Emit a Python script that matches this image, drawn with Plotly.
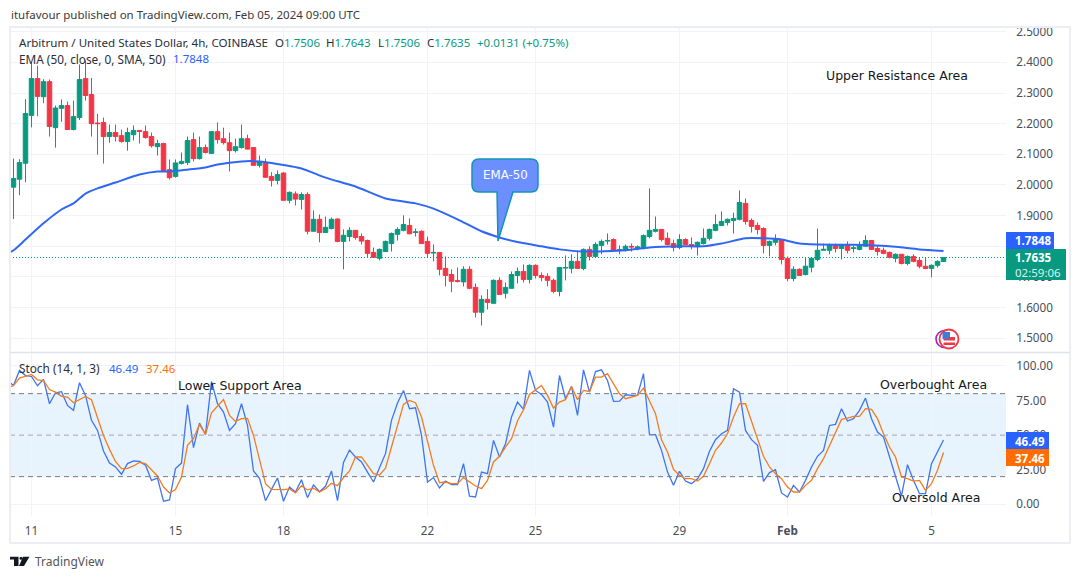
"""Arbitrum / USD 4h chart with EMA-50 and a stochastic panel, redrawn with plotly"""
import pandas as pd
import plotly.graph_objects as go

W, H = 1080, 579

#4h bars, first one is Jan 10 12:00
bar_dates = pd.date_range("2024-01-10 12:00", periods=156, freq="4h")
#the stochastic lines start one bar earlier and get clipped by the pane edge
stoch_dates = pd.date_range("2024-01-10 08:00", periods=157, freq="4h")

opens = [
    1.993, 2.019, 2.071, 2.227, 2.347, 2.288, 2.337, 2.187, 2.250, 2.259,
    2.181, 2.220, 2.347, 2.295, 2.202, 2.204, 2.158, 2.171, 2.161, 2.142,
    2.164, 2.178, 2.174, 2.158, 2.125, 2.135, 2.050, 2.028, 2.070, 2.073,
    2.148, 2.086, 2.122, 2.103, 2.174, 2.151, 2.138, 2.112, 2.122, 2.151,
    2.122, 2.064, 2.073, 2.028, 2.015, 2.039, 1.950, 1.971, 1.953, 1.969,
    1.849, 1.888, 1.845, 1.858, 1.889, 1.816, 1.832, 1.852, 1.832, 1.819,
    1.780, 1.761, 1.783, 1.809, 1.839, 1.852, 1.868, 1.845, 1.849, 1.816,
    1.778, 1.780, 1.728, 1.708, 1.688, 1.684, 1.725, 1.666, 1.585, 1.627,
    1.614, 1.689, 1.647, 1.663, 1.705, 1.718, 1.692, 1.738, 1.705, 1.702,
    1.689, 1.653, 1.729, 1.728, 1.751, 1.728, 1.790, 1.767, 1.803, 1.817,
    1.822, 1.787, 1.787, 1.800, 1.794, 1.793, 1.832, 1.849, 1.855, 1.826,
    1.809, 1.796, 1.822, 1.806, 1.800, 1.809, 1.826, 1.852, 1.868, 1.878,
    1.884, 1.888, 1.940, 1.884, 1.868, 1.858, 1.803, 1.813, 1.822, 1.761,
    1.695, 1.725, 1.708, 1.732, 1.757, 1.787, 1.787, 1.803, 1.793, 1.806,
    1.793, 1.790, 1.800, 1.819, 1.793, 1.787, 1.780, 1.761, 1.774, 1.744,
    1.767, 1.754, 1.735, 1.728, 1.738, 1.7506,
]
highs = [
    2.086, 2.084, 2.280, 2.400, 2.389, 2.345, 2.344, 2.259, 2.279, 2.272,
    2.275, 2.393, 2.406, 2.349, 2.232, 2.220, 2.197, 2.197, 2.181, 2.187,
    2.194, 2.178, 2.194, 2.171, 2.148, 2.138, 2.083, 2.083, 2.106, 2.158,
    2.171, 2.158, 2.132, 2.174, 2.204, 2.187, 2.171, 2.151, 2.197, 2.164,
    2.122, 2.096, 2.086, 2.042, 2.047, 2.042, 1.979, 1.979, 1.976, 1.976,
    1.917, 1.904, 1.897, 1.894, 1.891, 1.855, 1.862, 1.852, 1.842, 1.822,
    1.796, 1.793, 1.819, 1.845, 1.862, 1.901, 1.891, 1.858, 1.852, 1.832,
    1.806, 1.780, 1.767, 1.725, 1.731, 1.735, 1.735, 1.679, 1.640, 1.660,
    1.692, 1.699, 1.682, 1.718, 1.731, 1.741, 1.741, 1.741, 1.715, 1.712,
    1.695, 1.731, 1.770, 1.774, 1.787, 1.793, 1.800, 1.813, 1.822, 1.842,
    1.826, 1.803, 1.806, 1.809, 1.803, 1.839, 1.989, 1.897, 1.855, 1.845,
    1.822, 1.839, 1.826, 1.829, 1.816, 1.858, 1.858, 1.904, 1.914, 1.891,
    1.910, 1.982, 1.956, 1.891, 1.878, 1.862, 1.819, 1.839, 1.822, 1.767,
    1.735, 1.728, 1.764, 1.761, 1.858, 1.809, 1.809, 1.809, 1.806, 1.816,
    1.803, 1.816, 1.836, 1.819, 1.800, 1.796, 1.783, 1.777, 1.774, 1.770,
    1.774, 1.764, 1.764, 1.741, 1.754, 1.7643,
]
lows = [
    1.889, 1.967, 2.009, 2.188, 2.224, 2.267, 2.158, 2.122, 2.206, 2.181,
    2.178, 2.212, 2.275, 2.158, 2.099, 2.070, 2.138, 2.142, 2.138, 2.112,
    2.145, 2.135, 2.151, 2.122, 2.096, 2.042, 2.018, 2.024, 2.067, 2.065,
    2.077, 2.083, 2.103, 2.103, 2.135, 2.132, 2.044, 2.106, 2.119, 2.116,
    2.064, 2.057, 2.024, 1.995, 2.002, 1.950, 1.940, 1.933, 1.920, 1.839,
    1.849, 1.813, 1.845, 1.855, 1.813, 1.725, 1.816, 1.822, 1.806, 1.764,
    1.764, 1.754, 1.783, 1.783, 1.819, 1.849, 1.839, 1.832, 1.809, 1.764,
    1.751, 1.705, 1.669, 1.650, 1.682, 1.669, 1.660, 1.568, 1.542, 1.594,
    1.614, 1.643, 1.630, 1.663, 1.679, 1.682, 1.679, 1.695, 1.686, 1.669,
    1.647, 1.637, 1.689, 1.712, 1.728, 1.722, 1.754, 1.767, 1.774, 1.806,
    1.783, 1.774, 1.783, 1.783, 1.787, 1.790, 1.826, 1.845, 1.816, 1.803,
    1.783, 1.790, 1.804, 1.790, 1.770, 1.806, 1.819, 1.849, 1.868, 1.868,
    1.842, 1.884, 1.871, 1.845, 1.839, 1.777, 1.767, 1.803, 1.741, 1.686,
    1.686, 1.705, 1.705, 1.715, 1.751, 1.787, 1.774, 1.780, 1.757, 1.777,
    1.780, 1.787, 1.800, 1.790, 1.770, 1.774, 1.761, 1.748, 1.741, 1.738,
    1.748, 1.728, 1.725, 1.699, 1.731, 1.7506,
]
closes = [
    2.021, 2.073, 2.233, 2.347, 2.289, 2.337, 2.191, 2.251, 2.259, 2.181,
    2.223, 2.344, 2.292, 2.200, 2.200, 2.158, 2.171, 2.158, 2.142, 2.171,
    2.178, 2.175, 2.155, 2.128, 2.135, 2.046, 2.024, 2.072, 2.077, 2.145,
    2.086, 2.122, 2.106, 2.174, 2.148, 2.138, 2.112, 2.125, 2.151, 2.117,
    2.064, 2.075, 2.025, 2.015, 2.034, 1.950, 1.976, 1.954, 1.969, 1.849,
    1.888, 1.845, 1.862, 1.888, 1.816, 1.836, 1.852, 1.829, 1.817, 1.777,
    1.764, 1.790, 1.816, 1.842, 1.855, 1.871, 1.841, 1.847, 1.809, 1.777,
    1.780, 1.725, 1.705, 1.686, 1.686, 1.725, 1.663, 1.585, 1.627, 1.617,
    1.689, 1.643, 1.666, 1.708, 1.718, 1.692, 1.738, 1.705, 1.698, 1.689,
    1.653, 1.731, 1.731, 1.751, 1.728, 1.790, 1.767, 1.806, 1.816, 1.819,
    1.787, 1.789, 1.800, 1.798, 1.798, 1.835, 1.852, 1.855, 1.822, 1.806,
    1.796, 1.822, 1.806, 1.800, 1.813, 1.826, 1.855, 1.871, 1.881, 1.888,
    1.891, 1.943, 1.881, 1.865, 1.855, 1.803, 1.816, 1.822, 1.757, 1.695,
    1.725, 1.705, 1.735, 1.761, 1.787, 1.790, 1.803, 1.793, 1.806, 1.787,
    1.795, 1.803, 1.819, 1.790, 1.783, 1.777, 1.764, 1.774, 1.744, 1.767,
    1.751, 1.735, 1.728, 1.738, 1.751, 1.7635,
]

#EMA-50 read at these bar numbers (bar 0 = first candle)
ema_bars = [-1, 0, 2, 5, 8, 10, 12, 14, 17, 21, 24, 26, 29, 32, 34, 38, 41, 43, 48, 52, 57, 62, 67,
            70, 74, 78, 81, 84, 88, 91, 95, 102, 106, 111, 115, 118, 122, 125, 128, 131, 134,
            140, 146, 151, 155]
ema_values = [1.777, 1.787, 1.822, 1.875, 1.920, 1.940, 1.972, 1.989, 2.008, 2.034, 2.044, 2.044,
              2.050, 2.057, 2.067, 2.077, 2.077, 2.072, 2.054, 2.024, 1.995, 1.956, 1.940,
              1.923, 1.888, 1.849, 1.829, 1.814, 1.800, 1.790, 1.783, 1.787, 1.796, 1.800, 1.800,
              1.809, 1.826, 1.826, 1.822, 1.809, 1.806, 1.805, 1.800, 1.790, 1.7848]

stoch_k = [
    89.5, 85.9, 96.8, 93.1, 92.4, 85.7, 90.3, 72.7, 80.6, 81.4, 71.5, 67.9, 87.9, 78.7, 60.7, 53.4,
    38.5, 29.8, 27.0, 21.7, 29.4, 31.3, 31.0, 28.2, 17.3, 19.0, 2.2, 3.1, 25.8, 29.8,
    72.0, 40.9, 58.7, 50.5, 88.8, 72.7, 66.7, 53.4, 58.2, 72.7, 57.0, 24.1, 18.8, 2.6,
    10.8, 19.0, 2.2, 12.5, 8.9, 17.8, 4.8, 14.0, 9.1, 13.0, 24.1, 2.6, 30.3, 39.2, 34.2, 30.6,
    23.3, 16.1, 26.5, 36.6, 60.7, 73.2, 82.3, 69.1, 69.8, 49.8, 16.1, 19.3, 11.8, 16.8,
    14.2, 14.2, 29.4, 5.8, 5.3, 23.3, 22.1, 46.2, 34.2, 43.8, 63.1, 73.9, 68.6, 96.8,
    82.3, 79.4, 73.9, 55.8, 93.1, 76.3, 85.2, 64.3, 97.2, 81.1, 96.0, 97.2, 89.5, 74.4,
    74.6, 79.2, 78.7, 78.7, 94.4, 50.3, 50.3, 39.0, 23.3, 13.7, 23.8, 16.8, 14.9, 18.5,
    25.8, 38.3, 46.7, 51.0, 53.4, 83.5, 81.1, 53.4, 46.7, 42.6, 16.6, 22.9, 25.0, 8.2,
    5.3, 13.7, 8.9, 17.3, 27.0, 34.7, 39.0, 57.0, 57.8, 69.1, 60.2, 61.9, 67.9, 76.8,
    61.9, 52.2, 48.6, 34.2, 19.7, 6.0, 28.6, 17.3, 7.7, 7.7, 29.4, 37.8, 46.49,
]
stoch_d = [
    84.0, 85.9, 91.2, 92.4, 93.9, 90.0, 89.5, 83.0, 81.1, 78.0, 77.5, 73.4, 75.8, 78.0, 75.6, 63.1,
    49.8, 39.7, 31.0, 25.8, 26.0, 27.7, 30.3, 29.4, 24.6, 20.5, 12.5, 8.2, 10.6, 19.7,
    42.6, 47.4, 57.8, 50.5, 66.2, 71.0, 75.8, 64.3, 59.9, 61.9, 62.1, 49.8, 33.0, 14.9,
    10.8, 10.6, 10.6, 11.1, 8.2, 13.5, 10.4, 11.6, 8.9, 11.3, 15.2, 13.5, 19.3, 24.1, 34.2, 34.2,
    28.2, 22.1, 21.2, 26.2, 41.4, 57.0, 72.2, 75.1, 73.4, 63.1, 45.0, 28.2, 15.6, 16.1,
    14.9, 14.9, 19.3, 16.1, 13.2, 11.3, 17.3, 30.6, 34.7, 41.4, 47.4, 60.2, 68.4, 79.4,
    82.8, 85.9, 78.7, 69.6, 73.9, 75.6, 85.2, 75.6, 82.3, 81.6, 91.9, 91.9, 94.4, 87.1,
    79.9, 76.3, 77.5, 78.7, 84.0, 75.1, 65.5, 46.7, 37.8, 25.3, 20.9, 18.5, 18.5, 16.8,
    20.2, 29.4, 39.0, 44.3, 51.0, 63.1, 72.7, 72.7, 60.7, 47.4, 34.7, 27.0, 22.1, 18.5,
    12.5, 8.9, 8.9, 13.7, 17.3, 25.8, 33.0, 42.6, 51.0, 61.4, 62.3, 63.5, 63.5, 69.1,
    68.6, 61.9, 51.0, 41.4, 34.2, 19.7, 18.5, 16.8, 17.3, 10.1, 14.9, 24.6, 37.46,
]
assert len(opens) == len(highs) == len(lows) == len(closes) == 156
assert len(stoch_k) == len(stoch_d) == 157

day_ticks = ["2024-01-11", "2024-01-15", "2024-01-18", "2024-01-22", "2024-01-25", "2024-01-29",
             "2024-02-01", "2024-02-05"]
day_labels = ["11", "15", "18", "22", "25", "29", "<b>Feb</b>", "5"]
price_ticks = [1.5, 1.6, 1.7, 1.8, 1.9, 2.0, 2.1, 2.2, 2.3, 2.4, 2.5]
stoch_ticks = [0, 25, 50, 75, 100]

GREEN = "#089981"
RED = "#F23645"
BLUE = "#2962FF"
ORANGE = "#FF6D00"
GRID = "#F0F3FA"
FRAME = "#ECEEF4"
TEXT = "#2A2E39"
AXIS_TEXT = "#4A4E59"
FONT = "Noto Sans"
NOTE_FONT = "DejaVu Sans"

#helpers, pixel position in the picture -> paper coordinates
def px(x):
    return x / W
def py(y):
    return 1 - y / H

shapes = []
annotations = []

def label(x, y, text, size=11.5, color=TEXT, anchor="left", family=FONT):
    annotations.append(dict(xref="paper", yref="paper", x=px(x), y=py(y), text=text, showarrow=False,
                            xanchor=anchor, yanchor="middle", borderpad=0,
                            font=dict(family=family, size=size, color=color)))

def box(x0, y0, x1, y1, fill, line=None, width=0, layer="above"):
    shapes.append(dict(type="rect", xref="paper", yref="paper", x0=px(x0), x1=px(x1), y0=py(y0), y1=py(y1),
                       fillcolor=fill, line=dict(color=line or fill, width=width), layer=layer))

def path(points, fill, line=None, width=0):
    #points: list of pixel (x, y), closed polygon
    d = "M " + " L ".join(f"{px(a):.5f},{py(b):.5f}" for a, b in points) + " Z"
    shapes.append(dict(type="path", xref="paper", yref="paper", path=d, fillcolor=fill,
                       line=dict(color=line or fill, width=width), layer="above"))

def circle(cx, cy, r, fill, line, width):
    shapes.append(dict(type="circle", xref="paper", yref="paper", x0=px(cx - r), x1=px(cx + r),
                       y0=py(cy + r), y1=py(cy - r), fillcolor=fill,
                       line=dict(color=line, width=width), layer="above"))

fig = go.Figure()

#price pane
fig.add_trace(go.Candlestick(x=bar_dates, open=opens, high=highs, low=lows, close=closes, xaxis="x", yaxis="y",
                             whiskerwidth=0,
                             increasing=dict(line=dict(color=GREEN, width=1), fillcolor=GREEN),
                             decreasing=dict(line=dict(color=RED, width=1), fillcolor=RED)))
ema_dates = [bar_dates[0] + pd.Timedelta(hours=4 * b) for b in ema_bars]
fig.add_trace(go.Scatter(x=ema_dates, y=ema_values, mode="lines", xaxis="x", yaxis="y",
                         line=dict(color="#2E66F6", width=2, shape="spline", smoothing=0.6)))

#stochastic pane
fig.add_trace(go.Scatter(x=stoch_dates, y=stoch_k, mode="lines", xaxis="x", yaxis="y2",
                         line=dict(color="#3F74F2", width=1.3)))
fig.add_trace(go.Scatter(x=stoch_dates, y=stoch_d, mode="lines", xaxis="x", yaxis="y2",
                         line=dict(color="#F57C1F", width=1.3)))

#stoch band and its levels
shapes.append(dict(type="rect", xref="x domain", yref="y2", x0=0, x1=1, y0=20, y1=80, layer="below",
                   fillcolor="#E7F3FD", line=dict(width=0)))
for level, col in [(80, "#787B86"), (50, "#A0A3AD"), (20, "#787B86")]:
    shapes.append(dict(type="line", xref="x domain", yref="y2", x0=0, x1=1, y0=level, y1=level,
                       layer="above", line=dict(color=col, width=1, dash="5px,4px")))

#last price line
shapes.append(dict(type="line", xref="x domain", yref="y", x0=0, x1=1, y0=closes[-1], y1=closes[-1],
                   layer="above", line=dict(color=GREEN, width=1, dash="1px,2px")))

#frame around the chart
box(10, 27, 1070, 543, "rgba(0,0,0,0)", FRAME, 2)
shapes.append(dict(type="line", xref="paper", yref="paper", x0=px(10), x1=px(1070), y0=py(352.5), y1=py(352.5),
                   line=dict(color="#E0E3EB", width=1.5), layer="above"))

#price and stoch tags on the right
box(1006, 232, 1054, 249, BLUE)
box(1006, 249, 1066, 280, GREEN)
box(1006, 432, 1049, 449, BLUE)
box(1006, 449, 1049, 466, ORANGE)
label(1014, 240.5, "<b>1.7848</b>", 11.5, "#FFFFFF")
label(1014, 257.5, "<b>1.7635</b>", 11.5, "#FFFFFF")
label(1014, 272, "02:59:06", 11.5, "#DDF2EE")
label(1014, 441, "<b>46.49</b>", 11.5, "#FFFFFF")
label(1014, 458, "<b>37.46</b>", 11.5, "#FFFFFF")

#EMA-50 callout
r = 7
callout = ("M {} L {} Q {} {} L {} Q {} {} L {} L {} L {} L {} Q {} {} L {} Q {} {} Z").format(
    *[f"{px(a):.5f},{py(b):.5f}" for a, b in [
        (472 + r, 159), (538 - r, 159), (538, 159), (538, 159 + r), (538, 192 - r), (538, 192), (538 - r, 192),
        (513, 192), (498, 241), (497, 192), (472 + r, 192), (472, 192), (472, 192 - r),
        (472, 159 + r), (472, 159), (472 + r, 159)]])
shapes.append(dict(type="path", xref="paper", yref="paper", path=callout, fillcolor="#6B8FFF",
                   line=dict(color="#1295B5", width=1.5), layer="above"))
label(505, 175, "EMA-50", 11.8, "#FFFFFF", "center", NOTE_FONT)

#flag logo next to the last bars
circle(944.5, 339, 8.5, "#FFFFFF", "#9C27B0", 1.6)
circle(949, 339, 9.5, "#FFFFFF", "#F23645", 1.8)
box(943.5, 332.5, 954.5, 345.5, "#FFFFFF")
box(943.5, 337, 955, 340.5, RED)
box(943.5, 342.5, 955, 345, RED)
box(942.5, 332, 950, 339, "#3D7DD8")

#tradingview logo, bottom left
path([(10, 556.7), (18.5, 556.7), (18.5, 566), (14, 566), (14, 559.6), (10, 559.6)], "#131722")
circle(21, 558.2, 1.5, "#131722", "#131722", 0)
path([(23, 556.7), (29.5, 556.7), (24, 566), (19, 566)], "#131722")

#texts
label(10, 15, "itufavour published on TradingView.com, Feb 05, 2024 09:00 UTC", 11.5, "#3A3A3A")
label(34, 561.5, "TradingView", 12, "#555555")
label(18, 42, "Arbitrum / United States Dollar, 4h, COINBASE", 11.6, TEXT)
ohlc = [("O", "1.7506", 274), ("H", "1.7643", 325), ("L", "1.7506", 377), ("C", "1.7635", 426)]
for name, val, x in ohlc:
    label(x, 42, f'{name}<span style="color:{GREEN}">{val}</span>', 11.5, TEXT)
label(476, 42, "+0.0131 (+0.75%)", 11.5, GREEN)
label(18, 59, "EMA (50, close, 0, SMA, 50)", 11.8, TEXT)
label(172, 59, "1.7848", 11.5, BLUE)
label(18, 368, "Stoch (14, 1, 3)", 11.8, TEXT)
label(108, 368, "46.49", 11.5, BLUE)
label(145, 368, "37.46", 11.5, ORANGE)
label(825, 75, "Upper Resistance Area", 12.5, "#131722", family=NOTE_FONT)
label(177, 385, "Lower Support Area", 12.5, "#131722", family=NOTE_FONT)
label(879, 384, "Overbought Area", 12.5, "#131722", family=NOTE_FONT)
label(891, 498, "Oversold Area", 12.5, "#131722", family=NOTE_FONT)

axis_font = dict(family=FONT, size=11.7, color=AXIS_TEXT)
fig.update_layout(
    width=W, height=H, autosize=False, margin=dict(l=0, r=0, t=0, b=0, autoexpand=False),
    paper_bgcolor="#FFFFFF", plot_bgcolor="#FFFFFF", showlegend=False, boxgap=0.25, boxgroupgap=0,
    shapes=shapes, annotations=annotations,
    xaxis=dict(domain=[px(10), px(1006)], anchor="y2", type="date",
               range=["2024-01-10 09:40", "2024-02-07 01:40"],
               tickmode="array", tickvals=day_ticks, ticktext=day_labels, tickfont=axis_font, tickangle=0,
               ticks="outside", ticklen=4, tickcolor="rgba(0,0,0,0)", showline=False, zeroline=False,
               showgrid=True, gridcolor=GRID, gridwidth=1, rangeslider=dict(visible=False)),
    yaxis=dict(domain=[py(352), py(27)], anchor="x", side="right", range=[1.4553, 2.5153],
               tickmode="array", tickvals=price_ticks, tickformat=".4f", tickfont=axis_font,
               ticks="outside", ticklen=7, tickcolor="rgba(0,0,0,0)", showline=False, zeroline=False,
               showgrid=True, gridcolor=GRID, gridwidth=1),
    yaxis2=dict(domain=[py(516), py(352)], anchor="x", side="right", range=[-8.46, 110.1],
                tickmode="array", tickvals=stoch_ticks, tickformat=".2f", tickfont=axis_font,
                ticks="outside", ticklen=7, tickcolor="rgba(0,0,0,0)", showline=False, zeroline=False,
                showgrid=True, gridcolor=GRID, gridwidth=1),
)

fig.write_html("out.html", config=dict(displayModeBar=False), post_script="document.body.style.margin='0';")
